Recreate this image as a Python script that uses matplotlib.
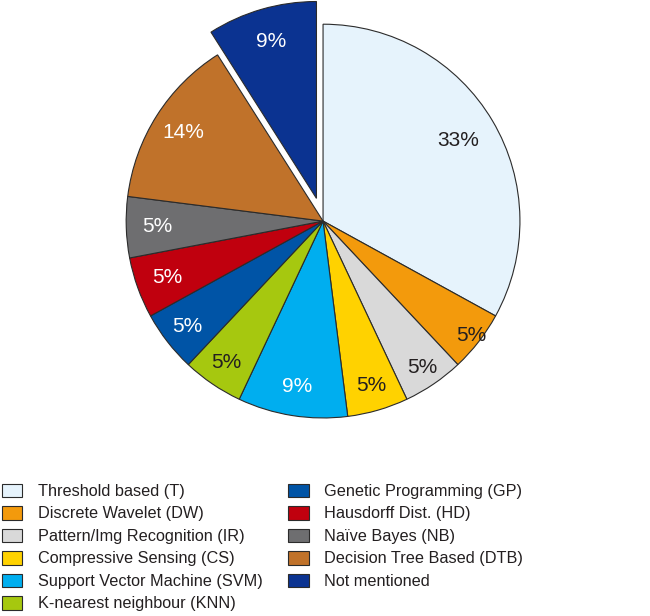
import numpy as np
import matplotlib.pyplot as plt

plt.rcParams['font.family'] = ['Liberation Sans', 'DejaVu Sans']

# Data
labels = ["Threshold based (T)", "Discrete Wavelet (DW)", "Pattern/Img Recognition (IR)",
          "Compressive Sensing (CS)", "Support Vector Machine (SVM)", "K-nearest neighbour (KNN)",
          "Genetic Programming (GP)", "Hausdorff Dist. (HD)", "Naïve Bayes (NB)",
          "Decision Tree Based (DTB)", "Not mentioned"]
shares = [33, 5, 5, 5, 9, 5, 5, 5, 5, 14, 9]
colors = ["#E6F3FC", "#F39A0C", "#D9D9D9", "#FFD200", "#00AEEF", "#A6C80F",
          "#0054A6", "#C0000E", "#6E6E70", "#C0722A", "#0B3391"]
text_colors = ["#231F20"] * 4 + ["white", "#231F20"] + ["white"] * 5
explode = [0, 0, 0, 0, 0, 0, 0, 0, 0, 0, 0.12]
label_dist = [0.8, 0.95, 0.9, 0.87, 0.85, 0.87, 0.87, 0.84, 0.84, 0.84, 0.83]

fig = plt.figure(figsize=(6.5, 6.16), dpi=100)
# pie axes: radius 1 ~ 197 px, centred at (323, 221) px
ax = fig.add_axes([0.103, 0.2256, 0.788, 0.831])

wedges, texts, autotexts = ax.pie(
    shares, colors=colors, explode=explode, startangle=90, counterclock=False,
    autopct='%d%%', pctdistance=0.85, radius=1.0,
    wedgeprops=dict(edgecolor="#2b2b2b", linewidth=0.8),
    textprops=dict(fontsize=15))
ax.set_xlim(-1.3, 1.3)
ax.set_ylim(-1.3, 1.3)
ax.set_aspect('equal')
ax.axis('off')

for w, t, c, d in zip(wedges, autotexts, text_colors, label_dist):
    ang = np.deg2rad((w.theta1 + w.theta2) / 2)
    cx, cy = w.center
    t.set_position((cx + d * np.cos(ang), cy + d * np.sin(ang)))
    t.set_color(c)
    t.set_clip_on(False)
for w in wedges:
    w.set_clip_on(False)

# Legend
fig.legend(wedges, labels, loc='upper left', bbox_to_anchor=(0.003, 0.215),
           ncol=2, frameon=False, fontsize=11.7, borderpad=0, borderaxespad=0,
           handlelength=1.25, handleheight=0.9, handletextpad=0.95,
           columnspacing=1.6, labelspacing=0.44, labelcolor="#231F20")

plt.savefig("out.png", dpi=100)
